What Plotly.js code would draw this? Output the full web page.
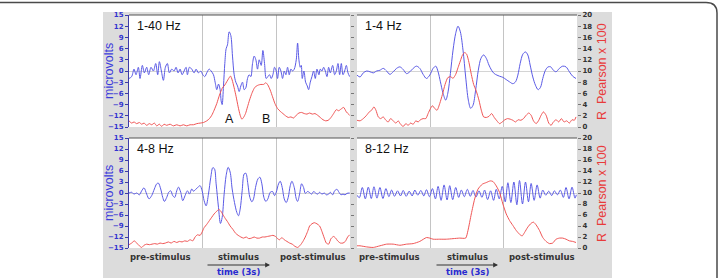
<!DOCTYPE html>
<html><head><meta charset="utf-8">
<script src="https://cdn.plot.ly/plotly-3.0.1.min.js"></script>
<style>html,body{margin:0;padding:0;background:#fff;}#chart{width:720px;height:278px;}</style>
</head><body><div id="chart"></div>
<script>
// Time axis: sample index (about 221 samples per second, 3 s window => 0..662)
const bandLabels = ["1-40 Hz", "1-4 Hz", "4-8 Hz", "8-12 Hz"];
const phaseLabels = ["pre-stimulus", "stimulus", "post-stimulus"];
const timeLabel = "time (3s)";
const peakLabels = ["A", "B"];
const uvTicks = [-15, -12, -9, -6, -3, 0, 3, 6, 9, 12, 15];
const rTicks = [0, 2, 4, 6, 8, 10, 12, 14, 16, 18, 20];
const phaseBounds = [221, 442];

// ---- 1-40 Hz ----
const tBlue140 = [0,8,15,21,28,33,40,46,53,59,66,73,80,86,91,97,103,109,115,121,128,135,141,147,153,159,165,171,175,181,188,195,201,208,215,221,227,233,240,246,253,258,263,268,273,276,279,283,287,291,295,300,305,310,315,320,325,330,335,340,345,350,355,360,365,370,375,380,385,390,396,401,406,411,416,421,426,431,436,441,445,450,455,460,465,470,475,480,485,490,495,501,505,509,513,516,519,524,529,534,538,543,548,553,558,563,569,573,578,583,588,593,598,603,610,616,621,626,631,636,641,646,651,656,661];
const uvBlue140 = [-2,-1.5,0.5,-1,1,-2,1.5,-0.5,1,-1,1,0,2,-1,2.5,0,-2.5,1,2,-0.5,0.5,0,1,-0.5,0.5,-1,0,1,-1,1,0.5,-0.5,0.5,-0.5,0,-1,-1.5,-0.5,0.5,0,-1,-3,-5,-3.5,-5,-8,-9,-4,2,6,7,10.5,9.5,4,-1,-3,-4,-5.5,-4,-3,-5,-4.5,-2,-1,-1.5,2,4,3,0.5,3,1.5,5.5,2,-2,-1.5,-1,-2,-1,1,0,-2,1,0,-2,0,-1,1,-1,0.5,0,0.5,3,7.5,3,1,1.5,-2,0,-3,-4,-5,-3,-1.5,0,-2,0.5,-1,0.5,0,1,0,-1.5,1,-0.5,1.5,-1,0,2,-1,2,-1,0,1.5,-0.5,-1.5];
const tRed140 = [0,8,15,23,31,38,45,53,61,68,76,83,91,98,105,113,123,133,143,153,163,173,183,193,203,213,223,233,241,248,255,263,271,279,287,293,299,304,309,315,321,327,333,338,343,349,355,361,368,375,381,388,395,403,410,416,423,430,437,445,453,461,469,477,485,493,501,509,517,525,533,541,549,557,565,573,581,589,597,605,613,621,628,635,643,651,661];
const rRed140 = [1.1,0.7,0.9,0.6,0.8,0.5,0.7,0.3,0.6,0.4,0.7,0.2,0.5,0.1,0.5,0.3,0.5,0.2,0.4,0.2,0.4,0.2,0.4,0.4,0.6,0.7,0.8,1.1,1.5,2.1,3.0,4.2,5.7,6.9,7.5,8.1,8.7,9.1,8.4,7.0,5.4,3.6,2.1,1.4,1.7,2.4,3.6,4.8,6.0,6.9,7.3,7.5,7.6,7.6,7.9,7.5,6.6,5.4,4.2,3.3,2.8,2.4,2.0,1.7,1.8,1.6,2.1,2.5,2.6,2.4,2.3,2.5,2.3,2.4,2.1,1.7,1.3,1.1,1.2,1.7,2.4,3.1,2.9,3.2,3.5,2.7,2.1];

// ---- 1-4 Hz ----
const tBlue14 = [0,9,19,29,39,49,59,69,79,89,99,109,119,129,139,149,159,169,179,189,199,209,219,229,237,244,251,259,267,274,281,289,297,304,311,319,327,335,342,349,357,365,373,381,389,397,405,413,421,429,439,449,459,469,477,484,491,499,507,514,521,529,537,545,552,559,567,575,583,591,599,609,619,629,639,649,659];
const uvBlue14 = [-1.1,-1.6,-0.5,0,-0.2,-0.5,0,0.2,0.7,0,-0.9,-0.2,0.7,1.1,0.4,-0.7,-0.2,0.7,1.3,0.7,-0.9,-2,-1.1,0.7,1.3,-0.2,-2.9,-6,-7.8,-5.6,-0.7,5.6,10.1,12.0,10.5,5.6,-1.6,-7.8,-10,-9.2,-5.1,0.2,3.4,4.3,3.4,1.6,0.2,-0.7,-1.1,-1.4,-1.7,-2.3,-2.9,-3.4,-2.9,-1.1,2.0,4.5,5.1,4.3,1.6,-1.6,-3.8,-5.0,-4.4,-2,0.2,1.1,1.1,0.2,-0.2,0.7,1.3,1.1,-0.2,-1.4,-2];
const tRed14 = [0,9,19,29,37,44,51,57,64,71,79,87,94,101,109,117,124,131,139,147,154,161,169,177,184,191,199,207,214,221,227,234,241,249,257,265,273,281,289,297,304,311,317,324,330,337,344,351,359,367,374,381,389,397,405,413,421,429,437,445,453,461,469,477,485,493,501,509,517,524,531,539,547,554,561,569,577,584,591,599,607,615,623,631,639,647,654,659];
const rRed14 = [1.2,1.1,1.5,2.1,2.7,3.0,3.6,3.0,1.8,1.5,1.8,1.2,0.9,1.5,1.1,0.7,1.1,0.5,0.1,0.6,0.3,0.7,0.5,1.1,0.9,1.3,1.5,1.5,2.4,3.3,3.8,3.3,3.0,4.2,5.8,7.6,8.8,9.0,8.7,9.4,10.6,11.8,12.8,13.3,13.0,11.5,9.4,7.6,6.4,4.8,3.0,1.8,1.7,1.9,2.4,1.7,1.1,0.6,0.9,1.3,1.5,1.4,1.2,0.9,1.3,1.2,1.5,2.1,2.5,2.1,1.1,0.6,1.2,2.1,2.7,2.1,0.7,0.3,0.9,1.3,0.9,1.5,0.9,1.1,0.7,1.3,1.2,1.8];

// ---- 4-8 Hz ----
const tBlue48 = [0,8,15,23,31,38,45,53,60,68,76,83,88,95,101,106,113,119,125,131,137,143,148,155,161,168,175,181,188,193,201,208,213,219,225,231,238,245,251,256,261,268,274,279,285,291,297,303,309,316,323,328,333,339,345,350,356,362,368,373,379,386,392,398,404,410,416,423,430,436,441,448,453,459,465,471,477,483,488,495,501,505,511,517,523,528,535,541,547,553,559,565,571,578,585,591,598,603,610,616,623,629,635,641,647,653,661];
const uvBlue48 = [0,0.2,-0.3,0,-0.5,0.6,1.4,-0.3,-1.6,-0.7,1.1,2.5,2.7,1.1,-1.2,-2.3,-1.2,0.2,0.6,-0.7,-1.2,0.6,1.6,0.2,-2.1,-0.7,0.6,-0.3,1.1,0.5,1.1,1.7,2.0,0.6,-2.1,-3.5,-0.3,4.3,6.9,6.6,2.5,-3.9,-8.3,-6.7,-0.3,4.8,7.0,5.7,1.1,-2.6,-5.3,-6.2,-4.4,0.6,5.2,5.4,2.5,-1.2,-2.4,-1.6,1.5,3.8,4.3,2.5,-1.2,-2.3,-1.6,0.2,0.4,-0.7,0.2,2.5,3.2,1.5,-1.6,-2.6,-1.2,2.0,3.2,1.5,-1.6,-2.3,-0.3,2.5,1.5,-0.1,0.4,0.1,-0.3,0.4,0,-0.3,0.2,-0.3,0,-0.5,-0.3,0.2,-0.5,0.6,1.0,0.2,-0.5,-0.3,-0.5,-0.1,0];
const tRed48 = [0,8,16,23,31,38,45,53,61,69,77,85,93,101,109,118,126,135,143,151,159,167,175,183,191,198,205,213,219,225,233,241,248,255,263,269,275,281,288,295,303,311,319,327,335,343,351,359,367,375,383,391,399,407,415,423,431,439,445,451,458,465,473,481,489,497,505,513,521,528,535,541,548,555,563,571,578,585,591,598,605,613,619,625,633,641,648,655,661];
const rRed48 = [0.6,0.9,1.3,0.9,0.4,0.1,0.5,0.7,0.6,0.7,0.8,0.7,0.9,0.8,0.9,1.1,0.9,1.2,1.0,1.2,1.1,1.3,1.2,1.5,1.3,2.0,2.4,2.3,2.9,3.7,4.3,5.0,5.6,6.2,6.7,7.0,6.7,6.1,5.4,4.8,4.0,3.4,2.7,2.3,2.0,1.8,2.0,1.7,1.8,2.0,1.8,1.8,2.0,2.0,2.1,2.2,2.3,2.1,1.7,1.5,1.9,1.5,1.2,0.9,0.7,0.3,0.1,0.5,1.2,2.0,3.0,4.0,4.4,4.6,4.4,4.0,3.0,1.8,0.9,0.7,1.7,2.1,1.8,1.3,0.9,0.9,1.2,2.0,2.4];

// ---- 8-12 Hz ----
const tBlue812 = [0,7,16,25,34,43,51,60,69,78,87,96,104,113,122,131,139,148,157,166,174,183,192,201,209,218,227,236,244,253,262,271,279,288,297,306,314,323,332,341,349,358,367,376,384,393,402,411,419,428,437,446,454,463,472,481,489,498,507,516,524,533,542,551,559,568,577,586,594,603,612,621,629,638,647,656,660];
const uvBlue812 = [-0.6,-1.3,1.5,-1.6,1.6,-1.5,1.7,-1.4,1.5,-1.5,1.2,-1.0,0.8,-0.9,0.6,-0.8,0.7,-0.9,0.5,-0.8,0.8,-0.6,0.7,-0.8,0.9,-1.0,1.2,-1.6,1.8,-2.0,2.2,-1.9,2.0,-1.8,1.5,-1.2,0.8,-1.0,1.0,-0.9,0.7,-1.1,0.6,-1.2,0.8,-1.8,0.6,-2.0,1.0,-1.6,1.8,-2.4,2.8,-2.6,3.0,-3.2,3.4,-3.0,3.0,-2.4,2.6,-2.0,2.2,-1.4,0.8,-0.6,0.5,-0.7,0.6,-0.5,0.8,-1.2,1.5,-1.6,1.6,-1.4,-0.5];
const tRed812 = [0,9,29,49,69,89,109,129,149,169,189,209,219,229,249,269,289,309,327,334,344,354,364,377,389,401,409,419,429,439,449,459,469,479,489,497,504,514,524,531,539,549,559,569,579,589,599,609,619,629,639,649,659];
const rRed812 = [0.4,0.4,0.2,0.1,0.4,0.7,0.7,0.5,0.7,0.8,1.2,1.9,1.8,1.6,1.6,1.6,1.7,1.8,1.8,3.2,6.2,8.9,10.7,11.6,11.9,12.2,12.1,11.3,10.1,8.0,6.2,5.0,4.1,3.2,2.5,2.2,2.8,3.8,4.5,4.7,4.2,3.2,1.9,1.2,0.8,0.9,1.6,1.8,1.8,1.6,1.3,1.2,1.0];

const BLUE = '#5a5ae6', RED = '#f05555';
const W = 720, H = 278;
const px = x => x / W, py = y => 1 - y / H;

// panel rectangles (pixels): [left, right, top, bottom]
const panels = [
  {r: [129, 350, 15, 127], tb: tBlue140, vb: uvBlue140, tr: tRed140, vr: rRed140, left: true},
  {r: [357, 577, 15, 127], tb: tBlue14, vb: uvBlue14, tr: tRed14, vr: rRed14, left: false},
  {r: [129, 350, 138, 248], tb: tBlue48, vb: uvBlue48, tr: tRed48, vr: rRed48, left: true},
  {r: [357, 577, 138, 248], tb: tBlue812, vb: uvBlue812, tr: tRed812, vr: rRed812, left: false}
];

const data = [];
const layout = {
  width: W, height: H, autosize: false,
  margin: {l: 0, r: 0, t: 0, b: 0},
  paper_bgcolor: '#fff', plot_bgcolor: 'rgba(0,0,0,0)',
  showlegend: false,
  font: {family: 'Liberation Sans, Arial, sans-serif', color: '#222'},
  shapes: [], annotations: []
};

// gray background
layout.shapes.push({type: 'rect', xref: 'paper', yref: 'paper', layer: 'below',
  x0: px(103), x1: px(612), y0: py(12), y1: -0.05, fillcolor: '#dcdcdc', line: {width: 0}});
// outer rounded frame
layout.shapes.push({type: 'path', xref: 'paper', yref: 'paper', layer: 'above',
  path: `M ${px(-10)} ${py(2.5)} L ${px(706)} ${py(2.5)} Q ${px(717)} ${py(2.5)} ${px(717)} ${py(13)} L ${px(717)} ${py(300)}`,
  line: {color: '#4a4a4a', width: 1.5}});

panels.forEach((p, i) => {
  const n = i + 1;
  const xa = 'xaxis' + (n === 1 ? '' : n);
  const yb = 'yaxis' + (2 * n - 1 === 1 ? '' : 2 * n - 1);
  const yr = 'yaxis' + (2 * n);
  const xid = 'x' + (n === 1 ? '' : n);
  const ybid = 'y' + (2 * n - 1 === 1 ? '' : 2 * n - 1);
  const yrid = 'y' + (2 * n);
  const [L, R, T, B] = p.r;
  // white plot area
  layout.shapes.push({type: 'rect', xref: 'paper', yref: 'paper', layer: 'below',
    x0: px(L), x1: px(R), y0: py(B), y1: py(T), fillcolor: '#ffffff', line: {width: 0}});
  // top border line
  layout.shapes.push({type: 'line', xref: 'paper', yref: 'paper', layer: 'above',
    x0: px(L), x1: px(R), y0: py(T), y1: py(T), line: {color: '#555', width: 1}});

  layout[xa] = {domain: [px(L), px(R)], anchor: ybid, range: [0, 662],
    tickvals: phaseBounds, showticklabels: false, ticks: '', showgrid: true,
    gridcolor: '#c4c4c4', gridwidth: 1, zeroline: false, showline: false, fixedrange: true};
  layout[yb] = {domain: [py(B), py(T)], anchor: xid, range: [-15, 15],
    tickvals: uvTicks, showgrid: false, zeroline: true, zerolinecolor: '#d4d4d4', zerolinewidth: 1,
    showticklabels: p.left, ticks: p.left ? 'outside' : '', ticklen: 3, tickcolor: '#3c3ca8',
    showline: p.left, linecolor: '#3c3ca8', linewidth: 1,
    tickfont: {family: 'DejaVu Sans, sans-serif', size: 7, color: '#3535d0', weight: 'bold'},
    fixedrange: true};
  layout[yr] = {overlaying: ybid, anchor: xid, side: 'right', range: [0, 20],
    tickvals: rTicks, showgrid: false, zeroline: false, showline: false,
    ticks: 'outside', ticklen: 3, tickcolor: '#777',
    showticklabels: !p.left,
    tickfont: {family: 'DejaVu Sans, sans-serif', size: 7, color: '#333', weight: 'bold'},
    fixedrange: true};

  data.push({x: p.tb, y: p.vb, xaxis: xid, yaxis: ybid, type: 'scatter', mode: 'lines',
    line: {color: BLUE, width: 1, shape: 'spline', smoothing: 0.9}, hoverinfo: 'skip'});
  data.push({x: p.tr, y: p.vr, xaxis: xid, yaxis: yrid, type: 'scatter', mode: 'lines',
    line: {color: RED, width: 1, shape: 'spline', smoothing: 0.6}, hoverinfo: 'skip'});

  // band label
  layout.annotations.push({xref: 'paper', yref: 'paper', x: px(L + 6), y: py(T + 11),
    xanchor: 'left', yanchor: 'middle', showarrow: false, text: bandLabels[i],
    font: {size: 12.5, color: '#111', family: 'Liberation Sans, Arial, sans-serif'}});
});

// axis titles
[71, 193].forEach(yc => {
  layout.annotations.push({xref: 'paper', yref: 'paper', x: px(109), y: py(yc), textangle: -90,
    xanchor: 'center', yanchor: 'middle', showarrow: false, text: 'microvolts',
    font: {size: 12.5, color: '#3c3cdc'}});
  layout.annotations.push({xref: 'paper', yref: 'paper', x: px(602), y: py(yc + 1), textangle: -90,
    xanchor: 'center', yanchor: 'middle', showarrow: false, text: 'R\u00a0\u00a0Pearson x 100',
    font: {size: 12.5, color: '#e83a3a'}});
});

// peak labels
[[229, peakLabels[0]], [266, peakLabels[1]]].forEach(([x, t]) => {
  layout.annotations.push({xref: 'paper', yref: 'paper', x: px(x), y: py(119),
    xanchor: 'center', yanchor: 'middle', showarrow: false, text: t,
    font: {size: 12.5, color: '#111'}});
});

// phase labels, arrow, time label
[[160, 238, 313, 206, 270], [389, 467, 542, 435, 498]].forEach(([a, b, c, a0, a1]) => {
  [a, b, c].forEach((x, k) => {
    layout.annotations.push({xref: 'paper', yref: 'paper', x: px(x), y: py(257),
      xanchor: 'center', yanchor: 'middle', showarrow: false, text: phaseLabels[k],
      font: {family: 'DejaVu Sans, sans-serif', size: 8.5, color: '#333', weight: 'bold'}});
  });
  layout.annotations.push({xref: 'paper', yref: 'paper', x: px(a1), y: py(265),
    ax: px(a0), ay: py(265), axref: 'paper', ayref: 'paper', showarrow: true, text: '',
    arrowhead: 2, arrowsize: 0.8, arrowwidth: 1.2, arrowcolor: '#333'});
  layout.annotations.push({xref: 'paper', yref: 'paper', x: px(b), y: py(272),
    xanchor: 'center', yanchor: 'middle', showarrow: false, text: timeLabel,
    font: {family: 'DejaVu Sans, sans-serif', size: 8.5, color: '#2a2ad0', weight: 'bold'}});
});

Plotly.newPlot('chart', data, layout, {staticPlot: true, displayModeBar: false});
</script>
</body></html>
